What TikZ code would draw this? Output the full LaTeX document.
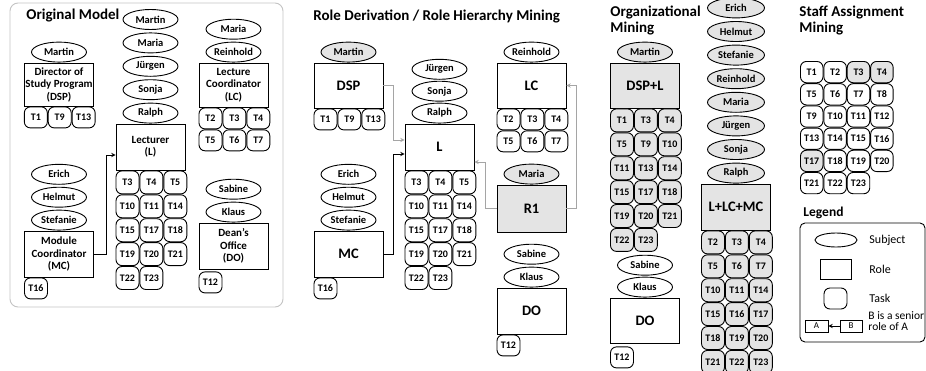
\documentclass[tikz,border=0pt]{standalone}
\usepackage{fontspec}
\setmainfont{Carlito}
\usepackage{tikz}
\usetikzlibrary{shapes.geometric,arrows,positioning,calc}
\definecolor{fillgray}{RGB}{228,228,228}
\definecolor{linkgray}{RGB}{165,165,165}
\definecolor{framegray}{RGB}{195,195,195}
\tikzset{
    subject/.style={draw, ellipse, minimum width=55pt, minimum height=20pt, inner sep=0pt, font=\bfseries\fontsize{10.5}{11}\selectfont},
    subjectG/.style={subject, fill=fillgray},
    role/.style={draw, minimum width=69pt, minimum height=46pt, inner sep=1pt, align=center, font=\bfseries\fontsize{11}{12.5}\selectfont},
    roleS/.style={role, font=\bfseries\fontsize{14.5}{16}\selectfont},
    roleG/.style={roleS, fill=fillgray},
    task/.style={draw, rounded corners=6pt, minimum width=23pt, minimum height=21pt, inner sep=0pt, font=\bfseries\fontsize{10}{10}\selectfont},
    taskG/.style={task, fill=fillgray},
    taskT/.style={task, minimum height=23pt},
    taskTG/.style={taskT, fill=fillgray},
    staff/.style={task, minimum width=22.5pt, minimum height=21.3pt},
    staffG/.style={staff, fill=fillgray},
    hier/.style={->, >=stealth},
    hierG/.style={hier, draw=linkgray},
    title/.style={font=\bfseries\fontsize{15}{16}\selectfont, align=left, inner sep=0pt},
    legtext/.style={font=\fontsize{12}{12}\selectfont, align=left, inner sep=0pt, anchor=west},
}

\begin{document}
\begin{tikzpicture}[x=1pt, y=-1pt, line width=0.9pt]
    \useasboundingbox (0,0) rectangle (926,370);

    % ---------------- Original Model ----------------
    \draw[framegray, rounded corners=8pt] (10,3) rectangle (283,307);
    \node[title, anchor=west] (tOrig) at (26,16) {Original Model};

    % Director of Study Program
    \node[role, minimum height=43pt] (oDSP) at (59,84.5) {Director of\\Study Program\\(DSP)};
    \node[subject, above=0pt of oDSP] (oMartinA) {Martin};
    \node[task, anchor=north west] (oDSP1) at (oDSP.south west) {T1};
    \node[task, right=0pt of oDSP1] (oDSP9) {T9};
    \node[task, right=0pt of oDSP9] (oDSP13) {T13};

    % Module Coordinator
    \node[role] (oMC) at (59,254) {Module\\Coordinator\\(MC)};
    \node[subject, above=0pt of oMC] (oStefanie) {Stefanie};
    \node[subject, above=2pt of oStefanie] (oHelmut) {Helmut};
    \node[subject, above=2pt of oHelmut] (oErich) {Erich};
    \node[task, anchor=north west] (oMC16) at (oMC.south west) {T16};

    % Lecturer
    \node[role] (oL) at (150.5,147) {Lecturer\\(L)};
    \node[subject, above=0pt of oL] (oRalph) {Ralph};
    \node[subject, above=2.5pt of oRalph] (oSonja) {Sonja};
    \node[subject, above=2.5pt of oSonja] (oJurgen) {Jürgen};
    \node[subject, above=2.5pt of oJurgen] (oMariaA) {Maria};
    \node[subject, above=2.5pt of oMariaA] (oMartinB) {Martin};
    \node[taskT, anchor=north west] (oL3) at (oL.south west) {T3};
    \node[taskT, right=0pt of oL3] (oL4) {T4};
    \node[taskT, right=0pt of oL4] (oL5) {T5};
    \node[taskT, below=0pt of oL3] (oL10) {T10};
    \node[taskT, right=0pt of oL10] (oL11) {T11};
    \node[taskT, right=0pt of oL11] (oL14) {T14};
    \node[taskT, below=0pt of oL10] (oL15) {T15};
    \node[taskT, right=0pt of oL15] (oL17) {T17};
    \node[taskT, right=0pt of oL17] (oL18) {T18};
    \node[taskT, below=0pt of oL15] (oL19) {T19};
    \node[taskT, right=0pt of oL19] (oL20) {T20};
    \node[taskT, right=0pt of oL20] (oL21) {T21};
    \node[taskT, below=0pt of oL19] (oL22) {T22};
    \node[taskT, right=0pt of oL22] (oL23) {T23};

    % Lecture Coordinator
    \node[role, minimum height=44pt] (oLC) at (233.5,85) {Lecture\\Coordinator\\(LC)};
    \node[subject, above=0pt of oLC] (oReinhold) {Reinhold};
    \node[subject, above=2pt of oReinhold] (oMariaB) {Maria};
    \node[task, anchor=north west] (oLC2) at (oLC.south west) {T2};
    \node[task, right=0pt of oLC2] (oLC3) {T3};
    \node[task, right=0pt of oLC3] (oLC4) {T4};
    \node[task, below=0pt of oLC2] (oLC5) {T5};
    \node[task, right=0pt of oLC5] (oLC6) {T6};
    \node[task, right=0pt of oLC6] (oLC7) {T7};

    % Dean's Office
    \node[role] (oDO) at (233.5,246) {Dean's\\Office\\(DO)};
    \node[subject, above=0pt of oDO] (oKlaus) {Klaus};
    \node[subject, above=2pt of oKlaus] (oSabine) {Sabine};
    \node[task, anchor=north west] (oDO12) at ($(oDO.south west)+(0,2)$) {T12};

    \draw[hier] (oMC.east) -- ++(12,0) |- ($(oL.west)+(0,8)$);

    % ---------------- Role Derivation ----------------
    \node[title, anchor=west] (tDeriv) at (313,16) {Role Derivation / Role Hierarchy Mining};

    % DSP
    \node[roleS, minimum height=45pt] (dDSP) at (348.5,85.5) {DSP};
    \node[subjectG, above=0pt of dDSP] (dMartin) {Martin};
    \node[task, anchor=north west] (dDSP1) at (dDSP.south west) {T1};
    \node[task, right=0pt of dDSP1] (dDSP9) {T9};
    \node[task, right=0pt of dDSP9] (dDSP13) {T13};

    % MC
    \node[roleS] (dMC) at (348.5,254) {MC};
    \node[subject, above=0pt of dMC] (dStefanie) {Stefanie};
    \node[subject, above=2pt of dStefanie] (dHelmut) {Helmut};
    \node[subject, above=2pt of dHelmut] (dErich) {Erich};
    \node[task, anchor=north west] (dMC16) at (dMC.south west) {T16};

    % L
    \node[roleS] (dL) at (439.5,147) {L};
    \node[subject, above=0pt of dL] (dRalph) {Ralph};
    \node[subject, above=1pt of dRalph] (dSonja) {Sonja};
    \node[subject, above=1pt of dSonja] (dJurgen) {Jürgen};
    \node[taskT, anchor=north west] (dL3) at (dL.south west) {T3};
    \node[taskT, right=0pt of dL3] (dL4) {T4};
    \node[taskT, right=0pt of dL4] (dL5) {T5};
    \node[taskT, below=0pt of dL3] (dL10) {T10};
    \node[taskT, right=0pt of dL10] (dL11) {T11};
    \node[taskT, right=0pt of dL11] (dL14) {T14};
    \node[taskT, below=0pt of dL10] (dL15) {T15};
    \node[taskT, right=0pt of dL15] (dL17) {T17};
    \node[taskT, right=0pt of dL17] (dL18) {T18};
    \node[taskT, below=0pt of dL15] (dL19) {T19};
    \node[taskT, right=0pt of dL19] (dL20) {T20};
    \node[taskT, right=0pt of dL20] (dL21) {T21};
    \node[taskT, below=0pt of dL19] (dL22) {T22};
    \node[taskT, right=0pt of dL22] (dL23) {T23};

    % LC
    \node[roleS, minimum height=45pt] (dLC) at (531.5,85.5) {LC};
    \node[subject, above=0pt of dLC] (dReinhold) {Reinhold};
    \node[task, anchor=north west] (dLC2) at (dLC.south west) {T2};
    \node[task, right=0pt of dLC2] (dLC3) {T3};
    \node[task, right=0pt of dLC3] (dLC4) {T4};
    \node[task, below=0pt of dLC2] (dLC5) {T5};
    \node[task, right=0pt of dLC5] (dLC6) {T6};
    \node[task, right=0pt of dLC6] (dLC7) {T7};

    % R1
    \node[roleG, minimum height=47pt] (dR1) at (531.5,208.5) {R1};
    \node[subjectG, above=0pt of dR1] (dMaria) {Maria};

    % DO
    \node[roleS] (dDO) at (531.5,311) {DO};
    \node[subject, above=0pt of dDO] (dKlaus) {Klaus};
    \node[subject, above=2pt of dKlaus] (dSabine) {Sabine};
    \node[task, anchor=north west] (dDO12) at (dDO.south west) {T12};

    \draw[hierG] (dDSP.east) -- ++(10,0) |- ($(dL.west)+(0,-7)$);
    \draw[hier] (dMC.east) -- ++(10,0) |- ($(dL.west)+(0,7)$);
    \draw[hierG] (dR1.west) -- ++(-11,0) |- ($(dL.east)+(0,15)$);
    \draw[hierG] (dR1.east) -- ++(10,0) |- (dLC.east);

    % ---------------- Organizational Mining ----------------
    \node[title, anchor=north west] (tOrg) at (610,6) {Organizational\\Mining};

    % DSP+L
    \node[roleG, minimum height=45pt] (gDSPL) at (645,85.5) {DSP+L};
    \node[subjectG, above=0pt of gDSPL] (gMartin) {Martin};
    \node[taskTG, anchor=north west] (gA1) at (gDSPL.south west) {T1};
    \node[taskTG, right=0pt of gA1] (gA3) {T3};
    \node[taskTG, right=0pt of gA3] (gA4) {T4};
    \node[taskTG, below=0pt of gA1] (gA5) {T5};
    \node[taskTG, right=0pt of gA5] (gA9) {T9};
    \node[taskTG, right=0pt of gA9] (gA10) {T10};
    \node[taskTG, below=0pt of gA5] (gA11) {T11};
    \node[taskTG, right=0pt of gA11] (gA13) {T13};
    \node[taskTG, right=0pt of gA13] (gA14) {T14};
    \node[taskTG, below=0pt of gA11] (gA15) {T15};
    \node[taskTG, right=0pt of gA15] (gA17) {T17};
    \node[taskTG, right=0pt of gA17] (gA18) {T18};
    \node[taskTG, below=0pt of gA15] (gA19) {T19};
    \node[taskTG, right=0pt of gA19] (gA20) {T20};
    \node[taskTG, right=0pt of gA20] (gA21) {T21};
    \node[taskTG, below=0pt of gA19] (gA22) {T22};
    \node[taskTG, right=0pt of gA22] (gA23) {T23};

    % DO
    \node[roleS, minimum height=45pt] (gDO) at (645,320.5) {DO};
    \node[subject, above=0pt of gDO] (gKlaus) {Klaus};
    \node[subject, above=1pt of gKlaus] (gSabine) {Sabine};
    \node[task, anchor=north west] (gDO12) at ($(gDO.south west)+(0,3)$) {T12};

    % L+LC+MC
    \node[roleG] (gLLCMC) at (736,207) {L+LC+MC};
    \node[subjectG, minimum width=57pt, above=0pt of gLLCMC] (gRalph) {Ralph};
    \node[subjectG, minimum width=57pt, above=2.7pt of gRalph] (gSonja) {Sonja};
    \node[subjectG, minimum width=57pt, above=2.7pt of gSonja] (gJurgen) {Jürgen};
    \node[subjectG, minimum width=57pt, above=2.7pt of gJurgen] (gMaria) {Maria};
    \node[subjectG, minimum width=57pt, above=2.7pt of gMaria] (gReinhold) {Reinhold};
    \node[subjectG, minimum width=57pt, above=2.7pt of gReinhold] (gStefanie) {Stefanie};
    \node[subjectG, minimum width=57pt, above=2.7pt of gStefanie] (gHelmut) {Helmut};
    \node[subjectG, minimum width=57pt, above=2.7pt of gHelmut] (gErich) {Erich};
    \node[taskTG, anchor=north west] (gB2) at (gLLCMC.south west) {T2};
    \node[taskTG, right=0pt of gB2] (gB3) {T3};
    \node[taskTG, right=0pt of gB3] (gB4) {T4};
    \node[taskTG, below=0pt of gB2] (gB5) {T5};
    \node[taskTG, right=0pt of gB5] (gB6) {T6};
    \node[taskTG, right=0pt of gB6] (gB7) {T7};
    \node[taskTG, below=0pt of gB5] (gB10) {T10};
    \node[taskTG, right=0pt of gB10] (gB11) {T11};
    \node[taskTG, right=0pt of gB11] (gB14) {T14};
    \node[taskTG, below=0pt of gB10] (gB15) {T15};
    \node[taskTG, right=0pt of gB15] (gB16) {T16};
    \node[taskTG, right=0pt of gB16] (gB17) {T17};
    \node[taskTG, below=0pt of gB15] (gB18) {T18};
    \node[taskTG, right=0pt of gB18] (gB19) {T19};
    \node[taskTG, right=0pt of gB19] (gB20) {T20};
    \node[taskTG, below=0pt of gB18] (gB21) {T21};
    \node[taskTG, right=0pt of gB21] (gB22) {T22};
    \node[taskTG, right=0pt of gB22] (gB23) {T23};

    % ---------------- Staff Assignment Mining ----------------
    \node[title, anchor=north west] (tStaff) at (799,6) {Staff Assignment\\Mining};
    \node[staff, anchor=north west] (s1) at (800,61) {T1};
    \node[staff, right=0pt of s1] (s2) {T2};
    \node[staffG, right=0pt of s2] (s3) {T3};
    \node[staffG, right=0pt of s3] (s4) {T4};
    \node[staff, below=0pt of s1] (s5) {T5};
    \node[staff, right=0pt of s5] (s6) {T6};
    \node[staff, right=0pt of s6] (s7) {T7};
    \node[staff, right=0pt of s7] (s8) {T8};
    \node[staff, below=0pt of s5] (s9) {T9};
    \node[staff, right=0pt of s9] (s10) {T10};
    \node[staff, right=0pt of s10] (s11) {T11};
    \node[staff, right=0pt of s11] (s12) {T12};
    \node[staff, below=0pt of s9] (s13) {T13};
    \node[staff, right=0pt of s13] (s14) {T14};
    \node[staff, right=0pt of s14] (s15) {T15};
    \node[staff, right=0pt of s15] (s16) {T16};
    \node[staffG, below=0pt of s13] (s17) {T17};
    \node[staff, right=0pt of s17] (s18) {T18};
    \node[staff, right=0pt of s18] (s19) {T19};
    \node[staff, right=0pt of s19] (s20) {T20};
    \node[staff, below=0pt of s17] (s21) {T21};
    \node[staff, right=0pt of s21] (s22) {T22};
    \node[staff, right=0pt of s22] (s23) {T23};

    % Legend
    \node[title, anchor=west, font=\bfseries\fontsize{13.5}{14}\selectfont] (tLegend) at (803,213) {Legend};
    \node[draw, rounded corners=5pt, minimum width=125pt, minimum height=119pt] (legend) at (862.5,282.5) {};
    \node[draw, ellipse, minimum width=42pt, minimum height=14pt] (lgSubj) at (836,240) {};
    \node[legtext] (lgSubjT) at (869,240) {Subject};
    \node[draw, minimum width=31pt, minimum height=20pt] (lgRole) at (835.5,269) {};
    \node[legtext] (lgRoleT) at (869,269) {Role};
    \node[draw, rounded corners=6pt, minimum width=23pt, minimum height=21pt] (lgTask) at (835.5,298.5) {};
    \node[legtext] (lgTaskT) at (869,298.5) {Task};
    \node[draw, minimum width=23pt, minimum height=12pt, inner sep=0pt, font=\fontsize{9}{9}\selectfont] (lgA) at (816.5,326) {A};
    \node[draw, minimum width=22pt, minimum height=12pt, inner sep=0pt, font=\fontsize{9}{9}\selectfont] (lgB) at (851,326) {B};
    \draw[hier] (lgB.west) -- (lgA.east);
    \node[legtext, font=\fontsize{11.5}{11.5}\selectfont] (lgHierT) at (868,321) {B is a senior\\role of A};
\end{tikzpicture}
\end{document}
